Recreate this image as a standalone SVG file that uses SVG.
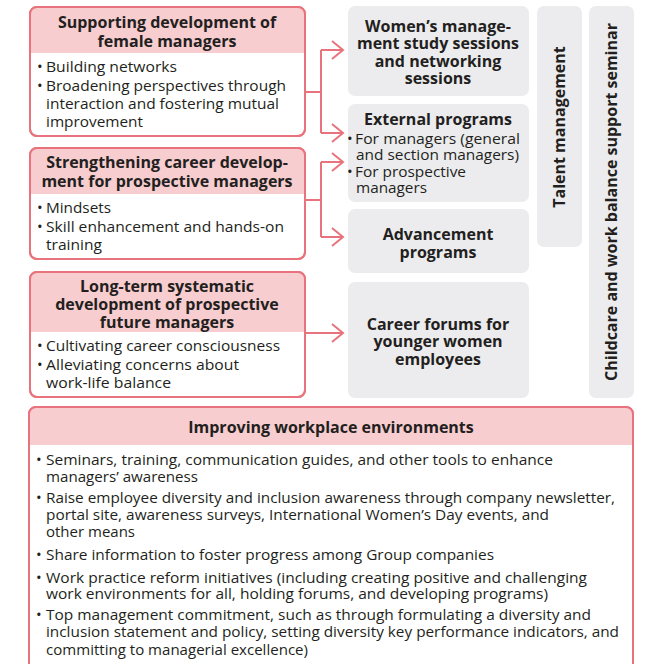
<svg xmlns="http://www.w3.org/2000/svg" width="669" height="664" viewBox="0 0 669 664">
<style>
.pbox{fill:#ffffff;stroke:#e9737c;stroke-width:2}
.pedge{fill:none;stroke:#e9737c;stroke-width:2}
.phead{fill:#f7cdcf}
.gbox{fill:#ececee}
text{font-family:"Open Sans","Noto Sans","Liberation Sans",sans-serif;fill:#231f20}
.h{font-size:16px;font-weight:bold;text-anchor:middle}
.b{font-size:15px}
.v{font-size:16px;font-weight:bold;text-anchor:middle}
.conn{fill:none;stroke:#e9737c;stroke-width:2}
</style>
<defs>
<clipPath id="c1"><rect x="30" y="7" width="275" height="129" rx="7"/></clipPath>
<clipPath id="c2"><rect x="30" y="148" width="275" height="111" rx="7"/></clipPath>
<clipPath id="c3"><rect x="30" y="272" width="275" height="125" rx="7"/></clipPath>
<clipPath id="c4"><rect x="29" y="407" width="604" height="270" rx="7"/></clipPath>
</defs>

<g id="supporting">
<rect class="pbox" x="30" y="7" width="275" height="129" rx="7"/>
<rect class="phead" x="30" y="7" width="275" height="46" clip-path="url(#c1)"/>
<rect class="pedge" x="30" y="7" width="275" height="129" rx="7"/>
<text class="h" x="167" y="28">Supporting development of</text>
<text class="h" x="167" y="47">female managers</text>
<text class="b" x="37" y="72">•</text>
<text class="b" x="46" y="72" textLength="131" lengthAdjust="spacingAndGlyphs">Building networks</text>
<text class="b" x="37" y="91">•</text>
<text class="b" x="46" y="91" textLength="240" lengthAdjust="spacingAndGlyphs">Broadening perspectives through</text>
<text class="b" x="46" y="109" textLength="233" lengthAdjust="spacingAndGlyphs">interaction and fostering mutual</text>
<text class="b" x="46" y="127" textLength="97" lengthAdjust="spacingAndGlyphs">improvement</text>
</g>

<g id="strengthening">
<rect class="pbox" x="30" y="148" width="275" height="111" rx="7"/>
<rect class="phead" x="30" y="148" width="275" height="46" clip-path="url(#c2)"/>
<rect class="pedge" x="30" y="148" width="275" height="111" rx="7"/>
<text class="h" x="167" y="168">Strengthening career develop-</text>
<text class="h" x="167" y="187">ment for prospective managers</text>
<text class="b" x="37" y="213">•</text>
<text class="b" x="46" y="213" textLength="65" lengthAdjust="spacingAndGlyphs">Mindsets</text>
<text class="b" x="37" y="232">•</text>
<text class="b" x="46" y="232" textLength="238" lengthAdjust="spacingAndGlyphs">Skill enhancement and hands-on</text>
<text class="b" x="46" y="250" textLength="56" lengthAdjust="spacingAndGlyphs">training</text>
</g>

<g id="longterm">
<rect class="pbox" x="30" y="272" width="275" height="125" rx="7"/>
<rect class="phead" x="30" y="272" width="275" height="60" clip-path="url(#c3)"/>
<rect class="pedge" x="30" y="272" width="275" height="125" rx="7"/>
<text class="h" x="167" y="292">Long-term systematic</text>
<text class="h" x="167" y="310">development of prospective</text>
<text class="h" x="167" y="328">future managers</text>
<text class="b" x="37" y="351">•</text>
<text class="b" x="46" y="351" textLength="234" lengthAdjust="spacingAndGlyphs">Cultivating career consciousness</text>
<text class="b" x="37" y="370">•</text>
<text class="b" x="46" y="370" textLength="193" lengthAdjust="spacingAndGlyphs">Alleviating concerns about</text>
<text class="b" x="46" y="388" textLength="125" lengthAdjust="spacingAndGlyphs">work-life balance</text>
</g>

<g id="womens">
<rect class="gbox" x="348" y="6" width="181" height="90" rx="7"/>
<text class="h" x="438" y="32">Women’s manage-</text>
<text class="h" x="438" y="49">ment study sessions</text>
<text class="h" x="438" y="67">and networking</text>
<text class="h" x="438" y="84">sessions</text>
</g>

<g id="external">
<rect class="gbox" x="348" y="104" width="181" height="98" rx="7"/>
<text class="h" x="438" y="125">External programs</text>
<text class="b" x="347" y="144">•</text>
<text class="b" x="355" y="144" textLength="165" lengthAdjust="spacingAndGlyphs">For managers (general</text>
<text class="b" x="356" y="160" textLength="163" lengthAdjust="spacingAndGlyphs">and section managers)</text>
<text class="b" x="347" y="177">•</text>
<text class="b" x="355" y="177" textLength="111" lengthAdjust="spacingAndGlyphs">For prospective</text>
<text class="b" x="356" y="193" textLength="71" lengthAdjust="spacingAndGlyphs">managers</text>
</g>

<g id="advancement">
<rect class="gbox" x="348" y="209" width="181" height="64" rx="7"/>
<text class="h" x="438" y="240">Advancement</text>
<text class="h" x="438" y="258">programs</text>
</g>

<g id="careerforums">
<rect class="gbox" x="348" y="282" width="181" height="116" rx="7"/>
<text class="h" x="438" y="330">Career forums for</text>
<text class="h" x="438" y="347">younger women</text>
<text class="h" x="438" y="365">employees</text>
</g>

<g id="talent">
<rect class="gbox" x="537" y="6" width="45" height="241" rx="7"/>
<text class="v" transform="translate(565 127) rotate(-90)">Talent management</text>
</g>

<g id="childcare">
<rect class="gbox" x="589" y="6" width="45" height="392" rx="7"/>
<text class="v" transform="translate(617 202) rotate(-90)">Childcare and work balance support seminar</text>
</g>

<g id="workplace">
<rect class="pbox" x="29" y="407" width="604" height="270" rx="7"/>
<rect class="phead" x="29" y="407" width="604" height="38" clip-path="url(#c4)"/>
<rect class="pedge" x="29" y="407" width="604" height="270" rx="7"/>
<text class="h" x="331" y="433">Improving workplace environments</text>
<text class="b" x="36" y="465">•</text>
<text class="b" x="46" y="465" textLength="507" lengthAdjust="spacingAndGlyphs">Seminars, training, communication guides, and other tools to enhance</text>
<text class="b" x="46" y="482" textLength="152" lengthAdjust="spacingAndGlyphs">managers’ awareness</text>
<text class="b" x="36" y="503">•</text>
<text class="b" x="46" y="503" textLength="569" lengthAdjust="spacingAndGlyphs">Raise employee diversity and inclusion awareness through company newsletter,</text>
<text class="b" x="46" y="520" textLength="503" lengthAdjust="spacingAndGlyphs">portal site, awareness surveys, International Women’s Day events, and</text>
<text class="b" x="46" y="537" textLength="89" lengthAdjust="spacingAndGlyphs">other means</text>
<text class="b" x="36" y="560">•</text>
<text class="b" x="46" y="560" textLength="448" lengthAdjust="spacingAndGlyphs">Share information to foster progress among Group companies</text>
<text class="b" x="36" y="583">•</text>
<text class="b" x="46" y="583" textLength="541" lengthAdjust="spacingAndGlyphs">Work practice reform initiatives (including creating positive and challenging</text>
<text class="b" x="46" y="599" textLength="502" lengthAdjust="spacingAndGlyphs">work environments for all, holding forums, and developing programs)</text>
<text class="b" x="36" y="620">•</text>
<text class="b" x="46" y="620" textLength="545" lengthAdjust="spacingAndGlyphs">Top management commitment, such as through formulating a diversity and</text>
<text class="b" x="46" y="637" textLength="573" lengthAdjust="spacingAndGlyphs">inclusion statement and policy, setting diversity key performance indicators, and</text>
<text class="b" x="46" y="655" textLength="262" lengthAdjust="spacingAndGlyphs">committing to managerial excellence)</text>
</g>

<g id="connectors">
<path class="conn" d="M305 92 H321 M321 50 V133 M321 50 H342 M321 133 H342 M332 41 L343 50 L332 59 M332 124 L343 133 L332 142"/>
<path class="conn" d="M305 200 H321 M321 162 V237 M321 162 H342 M321 237 H342 M332 153 L343 162 L332 171 M332 228 L343 237 L332 246"/>
<path class="conn" d="M305 333 H342 M332 324 L343 333 L332 342"/>
</g>
</svg>
